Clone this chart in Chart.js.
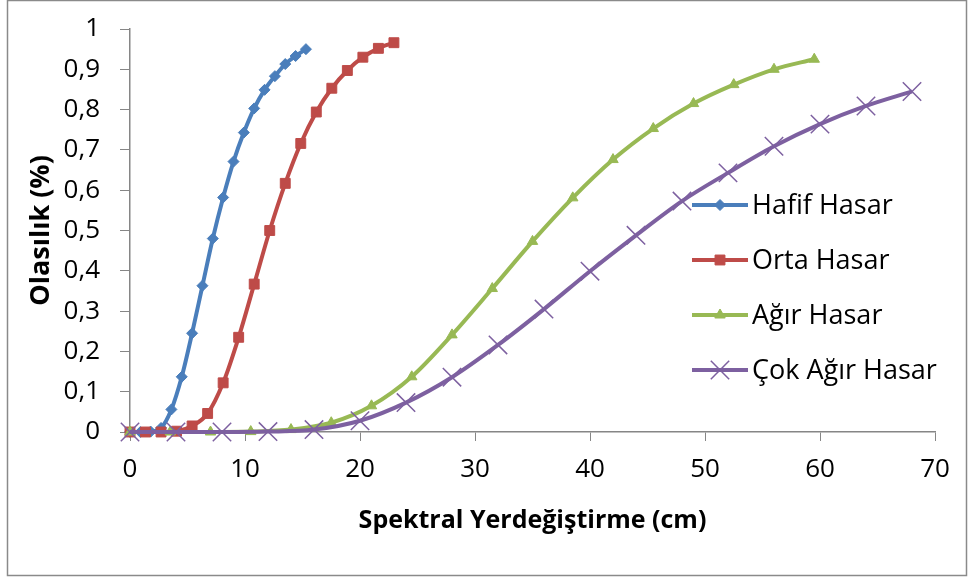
<!DOCTYPE html>
<html>
<head>
<meta charset="utf-8">
<script src="https://cdn.jsdelivr.net/npm/chart.js@4"></script>
<style>
  html, body { margin: 0; padding: 0; background: #ffffff; }
  canvas { display: block; }
</style>
</head>
<body>
<canvas id="fragilityChart" width="970" height="581"></canvas>
<script>
// spectral displacement (cm) and exceedance probability per damage state
const hafifX = [0, 0.9, 1.8, 2.7, 3.6, 4.5, 5.4, 6.3, 7.2, 8.1, 9.0, 9.9, 10.8, 11.7, 12.6, 13.5, 14.4, 15.3];
const hafifY = [0, 0, 0.001, 0.01, 0.056, 0.137, 0.245, 0.363, 0.48, 0.582, 0.671, 0.743, 0.803, 0.849, 0.883, 0.913, 0.933, 0.95];

const ortaX = [0, 1.35, 2.7, 4.05, 5.4, 6.75, 8.1, 9.45, 10.8, 12.15, 13.5, 14.85, 16.2, 17.55, 18.9, 20.25, 21.6, 22.95];
const ortaY = [0, 0, 0, 0.002, 0.015, 0.046, 0.122, 0.235, 0.367, 0.5, 0.617, 0.716, 0.794, 0.853, 0.897, 0.93, 0.952, 0.966];

const agirX = [0, 3.5, 7, 10.5, 14, 17.5, 21, 24.5, 28, 31.5, 35, 38.5, 42, 45.5, 49, 52.5, 56, 59.5];
const agirY = [0, 0, 0, 0.001, 0.006, 0.023, 0.065, 0.137, 0.241, 0.356, 0.473, 0.581, 0.676, 0.753, 0.815, 0.862, 0.9, 0.925];

const cokAgirX = [0, 4, 8, 12, 16, 20, 24, 28, 32, 36, 40, 44, 48, 52, 56, 60, 64, 68];
const cokAgirY = [0, 0, 0, 0.001, 0.006, 0.028, 0.073, 0.136, 0.216, 0.305, 0.399, 0.488, 0.573, 0.643, 0.709, 0.764, 0.809, 0.845];

const seriesNames = ["Hafif Hasar", "Orta Hasar", "Ağır Hasar", "Çok Ağır Hasar"];
const xTicks = [0, 10, 20, 30, 40, 50, 60, 70];
const yTickLabels = ["0", "0,1", "0,2", "0,3", "0,4", "0,5", "0,6", "0,7", "0,8", "0,9", "1"];

const FONT = "'Open Sans', 'Noto Sans', sans-serif";
const AXIS_GRAY = "#868686";

function toPoints(xs, ys) {
    return xs.map((x, i) => ({ x, y: ys[i] }));
}

function makeDataset(label, xs, ys, color, style, radius, order) {
    return {
        label,
        data: toPoints(xs, ys),
        borderColor: color,
        backgroundColor: color,
        borderWidth: 4,
        pointStyle: style,
        pointRadius: radius,
        pointHoverRadius: radius,
        pointBackgroundColor: color,
        pointBorderColor: color,
        pointBorderWidth: style === "crossRot" ? 1.5 : 1,
        cubicInterpolationMode: "monotone",
        clip: false,
        order,
    };
}

const datasets = [
    makeDataset(seriesNames[0], hafifX, hafifY, "#4a7ebb", "rectRot", 5.5, 4),
    makeDataset(seriesNames[1], ortaX, ortaY, "#be4b48", "rect", 7, 3),
    makeDataset(seriesNames[2], agirX, agirY, "#98b954", "triangle", 6, 2),
    makeDataset(seriesNames[3], cokAgirX, cokAgirY, "#7d60a0", "crossRot", 13, 1),
];

// grey frame round the whole chart
const framePlugin = {
    id: "frame",
    beforeDraw(chart) {
        const ctx = chart.ctx;
        ctx.save();
        ctx.fillStyle = "#ffffff";
        ctx.fillRect(0, 0, chart.width, chart.height);
        ctx.strokeStyle = "#8a8a8a";
        ctx.lineWidth = 1.5;
        ctx.strokeRect(7.5, 0.5, 959, 575);
        ctx.restore();
    },
};

// legend sits inside the plot, on the right
const sideLegend = {
    id: "sideLegend",
    afterDraw(chart) {
        const ctx = chart.ctx;
        const x0 = 692, x1 = 748, textX = 752;
        const rowY = [205, 260, 315, 370];
        ctx.save();
        chart.data.datasets.forEach((ds, i) => {
            const y = rowY[i];
            ctx.strokeStyle = ds.borderColor;
            ctx.lineWidth = 4;
            ctx.beginPath();
            ctx.moveTo(x0, y);
            ctx.lineTo(x1, y);
            ctx.stroke();
            ctx.fillStyle = ds.pointBackgroundColor;
            ctx.strokeStyle = ds.pointBorderColor;
            ctx.lineWidth = ds.pointBorderWidth;
            Chart.helpers.drawPoint(ctx, {
                pointStyle: ds.pointStyle,
                radius: ds.pointRadius,
                rotation: 0,
                borderWidth: ds.pointBorderWidth,
            }, (x0 + x1) / 2, y);
            ctx.fillStyle = "#000000";
            ctx.font = "27px " + FONT;
            ctx.textBaseline = "middle";
            ctx.textAlign = "left";
            ctx.fillText(ds.label, textX, y + 1);
        });
        ctx.restore();
    },
};

new Chart(document.getElementById("fragilityChart"), {
    type: "line",
    data: { datasets },
    options: {
        responsive: false,
        devicePixelRatio: 1,
        animation: false,
        layout: {
            padding: { left: 25, right: 35, top: 29, bottom: 45 },
        },
        plugins: {
            legend: { display: false },
            tooltip: { enabled: false },
        },
        scales: {
            x: {
                type: "linear",
                min: 0,
                max: 70,
                afterBuildTicks: (scale) => {
                    scale.ticks = xTicks.map((v) => ({ value: v }));
                },
                afterFit: (scale) => {
                    scale.height = 104;
                },
                ticks: {
                    color: "#000000",
                    padding: 13,
                    maxRotation: 0,
                    font: { family: FONT, size: 26 },
                },
                grid: {
                    drawOnChartArea: false,
                    drawTicks: true,
                    tickLength: 9,
                    tickColor: AXIS_GRAY,
                },
                border: { color: AXIS_GRAY, width: 1.5 },
                title: {
                    display: true,
                    text: "Spektral Yerdeğiştirme (cm)",
                    color: "#000000",
                    padding: 0,
                    font: { family: FONT, size: 25, weight: "bold" },
                },
            },
            y: {
                type: "linear",
                min: 0,
                max: 1,
                afterBuildTicks: (scale) => {
                    scale.ticks = yTickLabels.map((_, i) => ({ value: i / 10 }));
                },
                afterFit: (scale) => {
                    scale.width = 105;
                    // the top label may hang over the plot edge
                    scale.paddingTop = 0;
                    scale.paddingBottom = 0;
                },
                ticks: {
                    color: "#000000",
                    padding: 20,
                    font: { family: FONT, size: 26 },
                    callback: (value, index) => yTickLabels[index],
                },
                grid: {
                    drawOnChartArea: false,
                    drawTicks: true,
                    tickLength: 10,
                    tickColor: AXIS_GRAY,
                },
                border: { color: AXIS_GRAY, width: 1.5 },
                title: {
                    display: true,
                    text: "Olasılık (%)",
                    color: "#000000",
                    padding: 0,
                    font: { family: FONT, size: 27, weight: "bold" },
                },
            },
        },
    },
    plugins: [framePlugin, sideLegend],
});
</script>
</body>
</html>
